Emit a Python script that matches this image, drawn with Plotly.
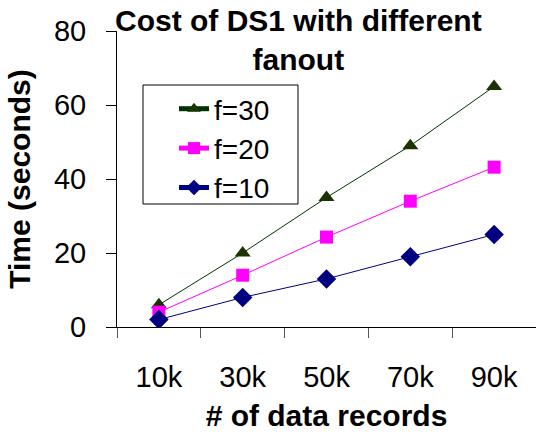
import plotly.graph_objects as go

categories = ["10k", "30k", "50k", "70k", "90k"]
f30 = [6, 20, 35, 49, 65]
f20 = [4, 14, 24.3, 34, 43.2]
f10 = [2, 8, 13, 19, 25]
y_ticks = [0, 20, 40, 60, 80]

FONT = "Liberation Sans, Arial, sans-serif"

# plot area in pixels: x 117..536, y 31..327
L, R, T, B = 117, 536, 31, 327
PW, PH = R - L, B - T

def px_x(x):
    return (x - L) / PW

def px_y(y):
    return (B - y) / PH

fig = go.Figure()
fig.add_trace(go.Scatter(x=categories, y=f30, name="f=30", mode="lines+markers",
                         line=dict(color="#003300", width=1),
                         marker=dict(symbol="triangle-up", size=14, color="#1a3300")))
fig.add_trace(go.Scatter(x=categories, y=f20, name="f=20", mode="lines+markers",
                         line=dict(color="#ff00ff", width=1),
                         marker=dict(symbol="square", size=13, color="#ff00ff")))
fig.add_trace(go.Scatter(x=categories, y=f10, name="f=10", mode="lines+markers",
                         line=dict(color="#000080", width=1),
                         marker=dict(symbol="diamond", size=15, color="#000080")))

fig.update_layout(
    width=536, height=432,
    margin=dict(l=L, r=536 - R, t=T, b=432 - B),
    paper_bgcolor="white", plot_bgcolor="white",
    font=dict(family=FONT, size=29, color="black"),
    showlegend=True,
    legend=dict(x=px_x(174), y=px_y(84), xanchor="left", yanchor="top",
                borderwidth=0, bgcolor="rgba(0,0,0,0)",
                font=dict(size=28, family=FONT), traceorder="normal",
                itemsizing="constant", tracegroupgap=0),
    shapes=[dict(type="rect", xref="paper", yref="paper",
                 x0=px_x(143), x1=px_x(298), y0=px_y(204), y1=px_y(85),
                 line=dict(color="black", width=1), fillcolor="rgba(0,0,0,0)",
                 layer="below")],
    annotations=[dict(text="<b>Cost of DS1 with different<br>fanout</b>",
                      xref="paper", yref="paper", x=px_x(298), y=px_y(2),
                      xanchor="center", yanchor="top", showarrow=False,
                      font=dict(size=30, family=FONT, color="black"))],
    xaxis=dict(type="category", range=[-0.5, 4.5], tickson="boundaries",
               showline=True, linecolor="black", linewidth=1,
               ticks="outside", ticklen=10, tickcolor="#555555", tickwidth=1,
               showgrid=False, zeroline=False, ticklabelstandoff=24,
               tickfont=dict(size=29),
               title=dict(text="<b># of data records</b>", standoff=16,
                          font=dict(size=30, family=FONT))),
    yaxis=dict(range=[0, 80], tickvals=y_ticks, showline=True, linecolor="black",
               linewidth=1, ticks="outside", ticklen=10, tickcolor="black",
               showgrid=False, zeroline=False, ticklabelstandoff=14,
               tickfont=dict(size=29),
               title=dict(text="<b>Time (seconds)</b>", standoff=14,
                          font=dict(size=30, family=FONT))),
)

fig.write_html("out.html")
